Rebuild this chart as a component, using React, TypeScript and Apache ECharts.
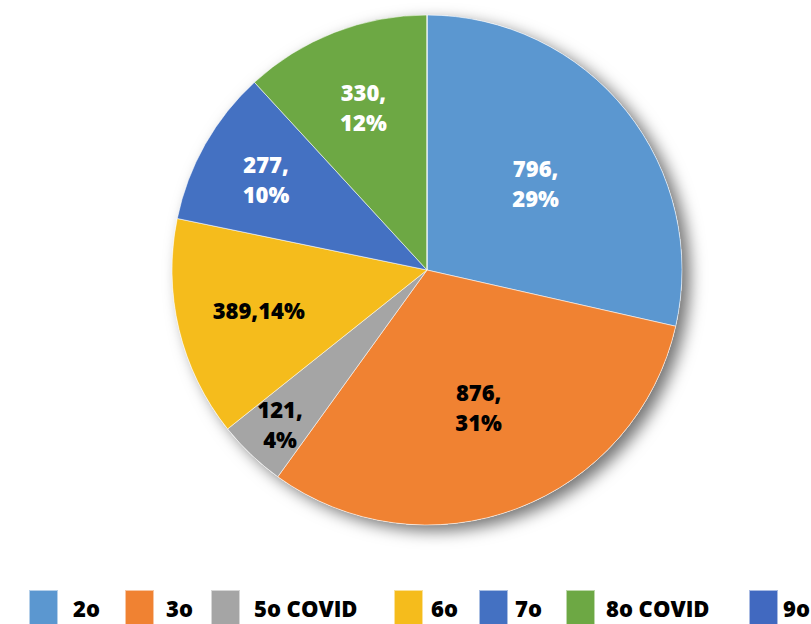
import React, { useEffect, useRef } from "react";
import * as echarts from "echarts";

const categories = ["2o", "3o", "5o COVID", "6o", "7o", "8o COVID", "9o"];
const values = [796, 876, 121, 389, 277, 330, 0];
const palette = ["#5B97D0", "#F08232", "#A5A5A5", "#F5BC1C", "#4471C2", "#6DA844", "#4169C0"];

const CENTER = [427, 270];
const R = 255;
const FONT = "Open Sans";

// label placement (distance from centre) and colour per category
const labelRadius: Record<string, number> = {
  "2o": 136,
  "3o": 143,
  "5o COVID": 210,
  "6o": 170,
  "7o": 182,
  "8o COVID": 172,
};
const labelColor: Record<string, string> = {
  "2o": "#ffffff",
  "3o": "#000000",
  "5o COVID": "#000000",
  "6o": "#000000",
  "7o": "#ffffff",
  "8o COVID": "#ffffff",
};
const oneLine = new Set(["6o"]);

const legendLeft = [28, 124, 210, 393, 478, 565, 748];
const legendTextGap = [15, 12, 14, 8, 7, 11, 5];

export default function App() {
  const ref = useRef<HTMLDivElement>(null);
  useEffect(() => {
    if (!ref.current) return;
    const chart = echarts.init(ref.current, undefined, { renderer: "svg" });

    const baseData = categories.map((n, i) => ({
      name: n,
      value: values[i],
      itemStyle: { color: palette[i] },
    }));

    const overlays: any[] = categories
      .map((name, k) => ({ name, k }))
      .filter(({ name }) => labelRadius[name] !== undefined)
      .map(({ name, k }) => {
        const r = labelRadius[name];
        return {
          type: "pie",
          center: CENTER,
          radius: [r - 1, r + 1],
          startAngle: 90,
          clockwise: true,
          percentPrecision: 0,
          silent: true,
          z: 3,
          emphasis: { disabled: true },
          labelLine: { show: false },
          itemStyle: { color: "rgba(0,0,0,0)", borderWidth: 0 },
          data: categories.map((n, i) => ({
            name: n,
            value: values[i],
            label: { show: i === k },
          })),
          label: {
            show: true,
            position: "inside",
            formatter: oneLine.has(name) ? "{c},{d}%" : "{c},\n{d}%",
            color: labelColor[name],
            fontFamily: FONT,
            fontWeight: 800,
            fontSize: 22,
            lineHeight: 30,
          },
        };
      });

    chart.setOption({
      animation: false,
      backgroundColor: "#ffffff",
      legend: categories.map((n, i) => ({
        left: legendLeft[i],
        top: 589,
        padding: 0,
        icon: "rect",
        itemWidth: 29,
        itemHeight: 36,
        selectedMode: false,
        data: [{ name: n, itemStyle: { color: palette[i] } }],
        textStyle: {
          fontFamily: FONT,
          fontWeight: 800,
          fontSize: 22,
          color: "#000000",
          padding: [0, 0, 0, legendTextGap[i] - 5],
        },
      })),
      series: [
        {
          type: "pie",
          center: CENTER,
          radius: R,
          startAngle: 90,
          clockwise: true,
          percentPrecision: 0,
          silent: true,
          z: 2,
          emphasis: { disabled: true },
          label: { show: false },
          labelLine: { show: false },
          itemStyle: { borderColor: "rgba(255,255,255,0.55)", borderWidth: 1 },
          data: baseData,
        },
        {
          type: "pie",
          center: CENTER,
          radius: R,
          silent: true,
          z: 1,
          emphasis: { disabled: true },
          label: { show: false },
          labelLine: { show: false },
          itemStyle: {
            color: "#ffffff",
            shadowBlur: 16,
            shadowOffsetX: 8,
            shadowOffsetY: 6,
            shadowColor: "rgba(0,0,0,0.55)",
          },
          data: [{ name: "__shadow", value: 1 }],
        },
        ...overlays,
      ],
    });
    return () => chart.dispose();
  }, []);

  return (
    <div
      ref={ref}
      style={{ position: "fixed", left: 0, top: 0, width: 811, height: 624 }}
    />
  );
}
